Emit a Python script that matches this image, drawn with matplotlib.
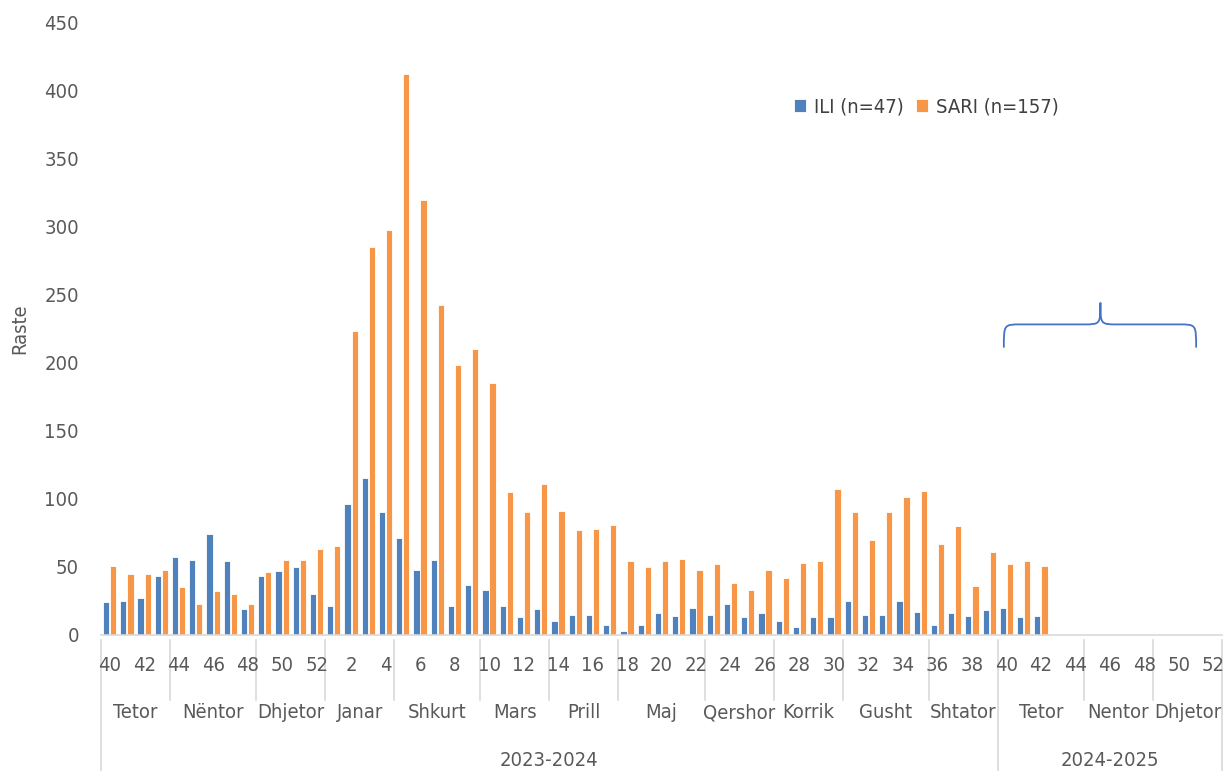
import numpy as np
import matplotlib.pyplot as plt
from matplotlib.path import Path
from matplotlib.patches import PathPatch
import matplotlib.transforms as mtransforms

plt.rcParams['font.family'] = ['DejaVu Sans']
plt.rcParams['font.stretch'] = 'condensed'

# Javet (sezoni 2023-2024 + fillimi i 2024-2025)
javet = list(range(40, 53)) + list(range(1, 40)) + list(range(40, 53))

ili = [24, 25, 27, 43, 57, 55, 74, 54, 19, 43, 47, 50, 30,
       21, 96, 115, 90, 71, 48, 55, 21, 37, 33, 21, 13, 19,
       10, 15, 15, 7, 3, 7, 16, 14, 20, 15, 23, 13, 16,
       10, 6, 13, 13, 25, 15, 15, 25, 17, 7, 16, 14, 18,
       20, 13, 14]
sari = [51, 45, 45, 48, 35, 23, 32, 30, 23, 46, 55, 55, 63,
        65, 223, 285, 297, 412, 319, 242, 198, 210, 185, 105, 90, 111,
        91, 77, 78, 81, 54, 50, 54, 56, 48, 52, 38, 33, 48,
        42, 53, 54, 107, 90, 70, 90, 101, 106, 67, 80, 36, 61,
        52, 54, 51]

muajt = ['Tetor', 'Nëntor', 'Dhjetor', 'Janar', 'Shkurt', 'Mars', 'Prill', 'Maj',
         'Qershor', 'Korrik', 'Gusht', 'Shtator', 'Tetor', 'Nentor', 'Dhjetor']
javet_ne_muaj = [4, 5, 4, 4, 5, 4, 4, 5, 4, 4, 5, 4, 5, 4, 4]
sezonet = ['2023-2024', '2024-2025']
javet_ne_sezon = [52, 13]

blu = '#4F81BD'
portokalli = '#F79646'
gri_tekst = '#595959'
gri_vije = '#D9D9D9'

fig = plt.figure(figsize=(12.25, 7.71), dpi=100)
ax = fig.add_axes([101 / 1225, 136 / 771, 1121 / 1225, 613 / 771])

n = len(javet)
x = np.arange(n)
w = 0.36
ax.bar(x[:len(ili)] - 0.205, ili, w, color=blu, edgecolor='white', linewidth=0.6,
       label='ILI (n=47)')
ax.bar(x[:len(sari)] + 0.205, sari, w, color=portokalli, edgecolor='white', linewidth=0.6,
       label='SARI (n=157)')

fs = 14.5
ax.set_xlim(-0.5, n - 0.5)
ax.set_ylim(0, 450)
ax.set_yticks(np.arange(0, 451, 50))
ax.tick_params(axis='y', length=0, labelsize=fs, labelcolor=gri_tekst, pad=16)
ax.set_xticks([])
for s in ['top', 'right', 'left']:
    ax.spines[s].set_visible(False)
ax.spines['bottom'].set_color(gri_vije)
ax.spines['bottom'].set_linewidth(1.2)
ax.set_ylabel('Raste', fontsize=fs, color=gri_tekst, labelpad=11)

trans = mtransforms.blended_transform_factory(ax.transData, ax.transAxes)

# rreshti i javeve
for i in range(0, n, 2):
    ax.text(x[i], -0.049, str(javet[i]), transform=trans, ha='center', va='center',
            fontsize=fs, color=gri_tekst, clip_on=False)

# rreshti i muajve
y_muaj = -0.106
y_sezon = -0.225
kufij = np.concatenate([[0], np.cumsum(javet_ne_muaj)]) - 0.5
kufij_sezon = set(np.concatenate([[0], np.cumsum(javet_ne_sezon)]) - 0.5)
for k in kufij:
    bottom = y_sezon if k in kufij_sezon else y_muaj
    ax.plot([k, k], [-0.008, bottom], transform=trans, color=gri_vije, lw=1.2,
            clip_on=False)
for m, a, b in zip(muajt, kufij[:-1], kufij[1:]):
    ax.text((a + b) / 2, -0.127, m, transform=trans, ha='center', va='center',
            fontsize=fs, color=gri_tekst, clip_on=False)

# rreshti i sezoneve
ks = np.concatenate([[0], np.cumsum(javet_ne_sezon)]) - 0.5
for s, a, b in zip(sezonet, ks[:-1], ks[1:]):
    ax.text((a + b) / 2, -0.204, s, transform=trans, ha='center', va='center',
            fontsize=fs, color=gri_tekst, clip_on=False)

# kllapa per javet pa te dhena
xa, xm, xb = 51.85, 57.45, 63.0
yb, yh, yt = 211, 228, 244
verts = [(xa, yb), (xa, yh), (xa, yh), (xa + 1.0, yh),
         (xm - 1.0, yh), (xm, yh), (xm, yh), (xm, yt),
         (xm, yt), (xm, yh), (xm, yh), (xm + 1.0, yh),
         (xb - 1.0, yh), (xb, yh), (xb, yh), (xb, yb)]
codes = [Path.MOVETO, Path.CURVE4, Path.CURVE4, Path.CURVE4,
         Path.LINETO, Path.CURVE4, Path.CURVE4, Path.CURVE4,
         Path.MOVETO, Path.CURVE4, Path.CURVE4, Path.CURVE4,
         Path.LINETO, Path.CURVE4, Path.CURVE4, Path.CURVE4]
ax.add_patch(PathPatch(Path(verts, codes), fill=False, edgecolor='#4472C4', lw=1.3))

ax.legend(loc='center left', bbox_to_anchor=(0.602, 0.861), ncol=2, frameon=False,
          fontsize=fs, handlelength=0.6, handleheight=0.6, handletextpad=0.4,
          columnspacing=0.6, labelcolor='#404040')

fig.savefig('out.png', dpi=100)
